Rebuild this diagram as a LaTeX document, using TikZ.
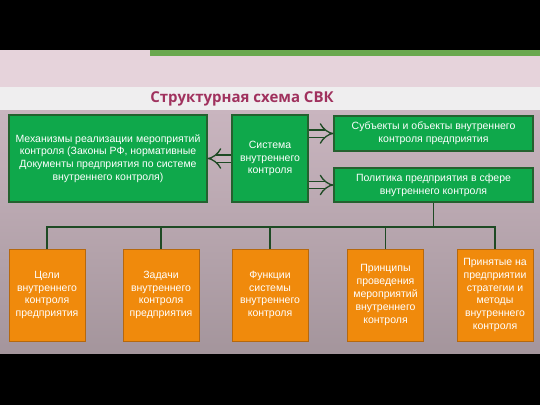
\documentclass[tikz,border=0pt]{standalone}
\usepackage{fontspec}
\setmainfont{Liberation Sans}
\newfontfamily\titlefont{Open Sans}
\usepackage{tikz}
\usetikzlibrary{arrows,arrows.meta}
\usetikzlibrary{positioning}

\definecolor{boxgreen}{HTML}{0FA84B}
\definecolor{edgegreen}{HTML}{24612F}
\definecolor{boxorange}{HTML}{F08A0C}
\definecolor{edgeorange}{HTML}{B5680F}
\definecolor{linegreen}{HTML}{1E4A24}
\definecolor{titlered}{HTML}{A0325E}
\definecolor{pinkbg}{HTML}{E6D3DB}
\definecolor{bandwhite}{HTML}{EFEEEF}
\definecolor{mauvetop}{HTML}{C9B5BF}
\definecolor{mauvebot}{HTML}{A4959C}
\definecolor{stripgreen}{HTML}{6AA84F}

\begin{document}
\begin{tikzpicture}
		[x=1pt,y=-1pt,
		 greenbox/.style={rectangle,draw=edgegreen,line width=1.1pt,fill=boxgreen,text=white,align=center,inner sep=1pt,font=\fontsize{10.5}{12.8}\selectfont},
		 orangebox/.style={rectangle,draw=edgeorange,line width=1pt,fill=boxorange,text=white,align=center,inner sep=1pt,minimum width=76pt,minimum height=92pt,font=\fontsize{10.5}{12.8}\selectfont},
		 fatarrow/.style={draw=linegreen,line width=1.3pt,double=mauvetop,double distance=6pt,-{Implies[scale=1.5]}},
		 tree/.style={draw=linegreen,line width=1.2pt}]
		\useasboundingbox (0,0) rectangle (540,405);
		% background
		\fill[black] (0,0) rectangle (540,50);
		\fill[pinkbg] (0,50) rectangle (540,87);
		\fill[stripgreen] (150,50) rectangle (540,56);
		\fill[bandwhite] (0,87) rectangle (540,110);
		\shade[top color=mauvetop,bottom color=mauvebot] (0,110) rectangle (540,354);
		\fill[black] (0,354) rectangle (540,405);
		\node[text=titlered,font=\titlefont\bfseries\fontsize{15}{18}\selectfont] (title) at (242,98.5) {Структурная схема СВК};
		
		% upper row
		\node[greenbox,minimum width=198pt,minimum height=87pt] (mech) at (108,158.5) {Механизмы реализации мероприятий\\ контроля (Законы РФ, нормативные\\ Документы предприятия по системе\\ внутреннего контроля)};
		\node[greenbox,minimum width=76pt,minimum height=87pt] (sys) at (270,158.5) {Система\\ внутреннего\\ контроля};
		\node[greenbox,minimum width=199pt,minimum height=35pt] (subj) at (433.5,133.5) {Субъекты и объекты внутреннего\\ контроля предприятия};
		\node[greenbox,minimum width=199pt,minimum height=34pt] (pol) at (433.5,185) {Политика предприятия в сфере\\ внутреннего контроля};
		
		\draw[fatarrow] (sys.west) -- (mech.east);
		\draw[fatarrow] (sys.east |- subj) -- (subj.west);
		\draw[fatarrow] (sys.east |- pol) -- (pol.west);
		
		% lower row
		\node[orangebox] (o1) at (47,295) {Цели\\ внутреннего\\ контроля\\ предприятия};
		\node[orangebox] (o2) at (161,295) {Задачи\\ внутреннего\\ контроля\\ предприятия};
		\node[orangebox] (o3) at (270,295) {Функции\\ системы\\ внутреннего\\ контроля};
		\node[orangebox] (o4) at (385.5,295) {Принципы\\ проведения\\ мероприятий\\ внутреннего\\ контроля};
		\node[orangebox] (o5) at (495,295) {Принятые на\\ предприятии\\ стратегии и\\ методы\\ внутреннего\\ контроля};
		
		\coordinate (bus) at (433.5,227);
		\draw[tree] (pol.south) -- (pol.south |- bus);
		\draw[tree] (o1.north) -- (o1.north |- bus) -- (o5.north |- bus) -- (o5.north);
		\foreach \obox in {o2,o3,o4}
		\draw[tree] (\obox.north) -- (\obox.north |- bus);
		\end{tikzpicture}
\end{document}
